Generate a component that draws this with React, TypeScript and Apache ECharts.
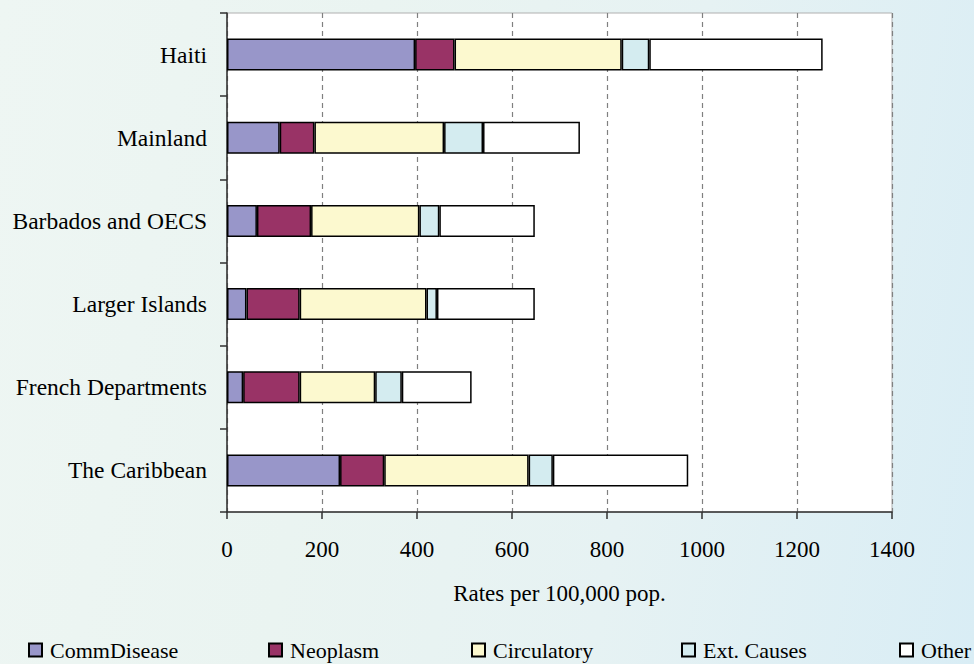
import React, { useEffect, useRef } from "react";
import * as echarts from "echarts";

const categories = [
  "The Caribbean",
  "French Departments",
  "Larger Islands",
  "Barbados and OECS",
  "Mainland",
  "Haiti",
];
const seriesNames = ["CommDisease", "Neoplasm", "Circulatory", "Ext. Causes", "Other"];
const commDisease = [238, 34, 41, 63, 111, 396];
const neoplasm = [93, 119, 112, 114, 73, 83];
const circulatory = [304, 159, 267, 228, 273, 352];
const extCauses = [51, 56, 22, 42, 82, 58];
const other = [285, 147, 206, 201, 204, 365];
const seriesValues = [commDisease, neoplasm, circulatory, extCauses, other];
const colors = ["#9896C9", "#993366", "#FCF9CF", "#D4ECF0", "#FFFFFF"];
const legendLeft = [28, 268, 471, 681, 899];

const FONT = "Liberation Serif";

export default function App() {
  const ref = useRef<HTMLDivElement>(null);
  useEffect(() => {
    if (!ref.current) return;
    const chart = echarts.init(ref.current, undefined, { renderer: "svg" });
    chart.setOption({
      animation: false,
      backgroundColor: "transparent",
      grid: {
        left: 227,
        right: 82,
        top: 13,
        bottom: 152,
        show: true,
        backgroundColor: "#FFFFFF",
        borderColor: "#B0B0B0",
        borderWidth: 1,
      },
      legend: seriesNames.map((n, i) => ({
        data: [n],
        left: legendLeft[i],
        top: 639,
        padding: 0,
        itemWidth: 13,
        itemHeight: 13,
        icon: "rect",
        textStyle: {
          fontFamily: FONT,
          fontSize: 22,
          lineHeight: 16,
          color: "#000",
          padding: [0, 0, 0, 3],
        },
      })),
      xAxis: {
        type: "value",
        min: 0,
        max: 1400,
        interval: 200,
        name: "Rates per 100,000 pop.",
        nameLocation: "middle",
        nameGap: 70,
        nameTextStyle: { fontFamily: FONT, fontSize: 23, color: "#000" },
        axisLine: { show: true, lineStyle: { color: "#303030", width: 1.5 } },
        axisTick: { show: true, length: 7, lineStyle: { color: "#303030", width: 1.5 } },
        axisLabel: {
          fontFamily: FONT,
          fontSize: 23,
          color: "#000",
          margin: 26,
          formatter: (v: number) => String(v),
        },
        splitLine: {
          show: true,
          lineStyle: { color: "#808080", type: [5, 4], width: 1.2 },
        },
      },
      yAxis: {
        type: "category",
        data: categories,
        axisLine: { show: true, lineStyle: { color: "#303030", width: 1.5 } },
        axisTick: { show: true, length: 7, lineStyle: { color: "#303030", width: 1.5 } },
        axisLabel: { fontFamily: FONT, fontSize: 23.5, color: "#000", margin: 20 },
        splitLine: { show: false },
      },
      series: seriesNames.map((n, i) => ({
        name: n,
        type: "bar",
        stack: "total",
        barWidth: 32,
        data: seriesValues[i],
        itemStyle: { color: colors[i], borderColor: "#000", borderWidth: 1.5 },
      })),
    });
    return () => chart.dispose();
  }, []);
  return (
    <div
      style={{
        position: "fixed",
        left: 0,
        top: 0,
        width: 974,
        height: 664,
        background:
          "linear-gradient(100deg, #eef6f3 0%, #eaf4f1 35%, #e6f2f3 65%, #d9edf5 100%)",
      }}
    >
      <div ref={ref} style={{ width: 974, height: 664 }} />
    </div>
  );
}
